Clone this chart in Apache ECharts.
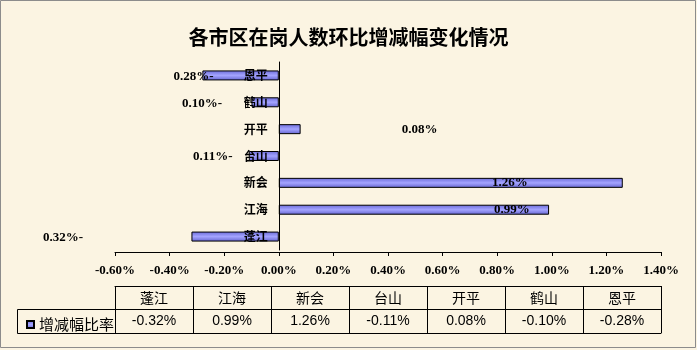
<!DOCTYPE html>
<html>
<head>
<meta charset="utf-8">
<script src="https://cdn.jsdelivr.net/npm/echarts@6/dist/echarts.min.js"></script>
<style>
html,body{margin:0;padding:0;background:#ffffff;}
#c{width:697px;height:350px;}
</style>
</head>
<body>
<div id="c"></div>
<script>
// ---- data ----
const titleText = '各市区在岗人数环比增减幅变化情况';
const seriesName = '增减幅比率';
const categories = ['蓬江', '江海', '新会', '台山', '开平', '鹤山', '恩平'];
const values = [-0.32, 0.99, 1.26, -0.11, 0.08, -0.10, -0.28]; // percent
const axisMin = -0.6, axisMax = 1.4, axisStep = 0.2;

// ---- label placement (style only) ----
const labelOffsets = [[-172, 1], [98, 0], [59, 0], [-51, 1], [130, 0], [-63, 1], [-47, 1]];

const barFill = {
  type: 'linear', x: 0, y: 0, x2: 0, y2: 1,
  colorStops: [
    {offset: 0, color: '#6a6ad8'},
    {offset: 0.5, color: '#a4a4ff'},
    {offset: 1, color: '#6464d0'}
  ]
};

const pctLabel = v => (v < 0 ? Math.abs(v).toFixed(2) + '%-' : v.toFixed(2) + '%');
const pctTable = v => v.toFixed(2) + '%';

const chart = echarts.init(document.getElementById('c'), null, {renderer: 'canvas'});
const serif = 'Liberation Serif';
const cjk = 'Noto Sans CJK SC';

const gridLeft = 115, gridRight = 697 - 661, gridTop = 62, gridH = 188;
const gridW = 697 - gridLeft - gridRight;
const zeroShift = (0 - axisMin) / (axisMax - axisMin) * gridW;

chart.setOption({
  backgroundColor: '#fbf4e2',
  animation: false,
  title: {
    text: titleText, left: 'center', top: 22,
    textStyle: {fontFamily: cjk, fontSize: 20, fontWeight: 'bold', color: '#000'}
  },
  legend: {
    data: [seriesName], left: 21, top: 312, itemWidth: 7, itemHeight: 7, itemGap: 5, icon: 'rect',
    textStyle: {fontFamily: cjk, fontSize: 15, color: '#000'}
  },
  grid: {left: gridLeft, right: gridRight, top: gridTop, height: gridH, containLabel: false},
  xAxis: [
    {
      type: 'value', min: axisMin, max: axisMax, interval: axisStep, offset: 2,
      axisLine: {show: true, lineStyle: {color: '#000', width: 1}},
      axisTick: {show: true, length: 4, lineStyle: {color: '#000'}},
      splitLine: {show: false},
      axisLabel: {
        margin: 12, color: '#000', fontFamily: serif, fontSize: 13, fontWeight: 'bold',
        formatter: v => v.toFixed(2) + '%'
      }
    },
    {
      type: 'category', data: categories, position: 'bottom', offset: 36,
      axisLine: {show: true, lineStyle: {color: '#000', width: 1}},
      axisTick: {show: true, length: 47, interval: 0, lineStyle: {color: '#000'}},
      axisLabel: {show: true, interval: 0, margin: 5, color: '#000', fontFamily: cjk, fontSize: 14},
      splitLine: {show: false}
    },
    {
      type: 'category', data: values.map(pctTable), position: 'bottom', offset: 59,
      axisLine: {show: true, lineStyle: {color: '#000', width: 1}},
      axisTick: {show: false},
      axisLabel: {show: true, interval: 0, margin: 5, color: '#000', fontFamily: 'Liberation Sans', fontSize: 14},
      splitLine: {show: false}
    },
    {
      type: 'category', data: categories, position: 'bottom', offset: 83,
      axisLine: {show: true, lineStyle: {color: '#000', width: 1}},
      axisTick: {show: false}, axisLabel: {show: false}, splitLine: {show: false}
    }
  ],
  yAxis: {
    type: 'category', data: categories, z: 5, position: 'left', offset: -zeroShift,
    axisLine: {show: true, onZero: false, lineStyle: {color: '#000', width: 1}},
    axisTick: {show: false},
    axisLabel: {margin: 11, color: '#000', fontFamily: cjk, fontSize: 12, fontWeight: 'bold'},
    splitLine: {show: false}
  },
  series: [{
    name: seriesName, type: 'bar', barWidth: 10,
    itemStyle: {color: barFill, borderColor: '#000', borderWidth: 1},
    label: {
      show: true, position: 'inside', color: '#000', fontFamily: serif, fontSize: 13, fontWeight: 'bold',
      formatter: p => pctLabel(p.value)
    },
    data: values.map((v, i) => ({value: v, label: {offset: labelOffsets[i]}}))
  }],
  graphic: [
    {type: 'rect', shape: {x: 17.5, y: 309.5, width: 98, height: 24}, style: {fill: 'none', stroke: '#000', lineWidth: 1}, z: 10},
    {type: 'rect', shape: {x: 0.5, y: 0.5, width: 695, height: 347}, style: {fill: 'none', stroke: '#8c8c8c', lineWidth: 1}, z: 10}
  ]
});
</script>
</body>
</html>
